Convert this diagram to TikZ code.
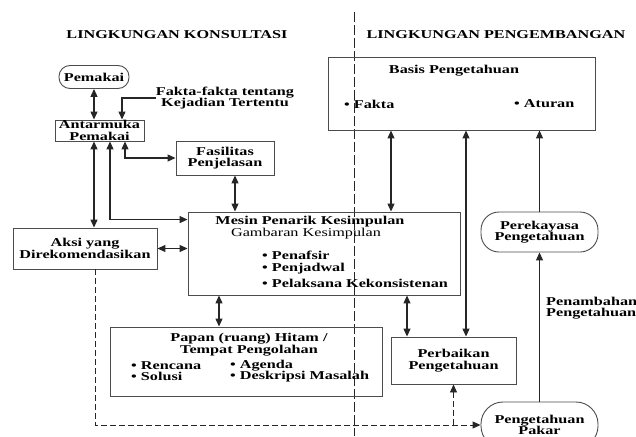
\documentclass[tikz,border=0pt]{standalone}
\usepackage{fontspec}
\setmainfont{Liberation Serif}[FakeStretch=1.35]
\usepackage{tikz}
\usetikzlibrary{calc,arrows.meta}

\newcommand{\huruf}{\fontsize{12}{11.5}\selectfont}
\tikzset{
  kotak/.style={draw=black!70, line width=0.9pt, align=center, font=\huruf\bfseries,
    inner sep=0pt},
  oval/.style={kotak, rounded corners=18pt},
  teks/.style={align=center, font=\huruf\bfseries, inner sep=0pt},
  hub/.style={draw=black!85, line width=1.1pt},
  hub2/.style={hub, {Triangle[length=8pt,width=7pt]}-{Triangle[length=8pt,width=7pt]}},
  hub1/.style={hub, -{Triangle[length=8pt,width=7pt]}},
  putus/.style={line width=0.9pt, dash pattern=on 6pt off 3pt},
}

\begin{document}
\begin{tikzpicture}[x=1pt,y=-1pt]
  \useasboundingbox (0,0) rectangle (636,436);
  \clip (0,0) rectangle (636,436);
  % judul kedua lingkungan
  \node[teks] (judulkiri) at (177,35) {LINGKUNGAN KONSULTASI};
  \node[teks] (judulkanan) at (496,35) {LINGKUNGAN PENGEMBANGAN};
  \coordinate (batasatas) at (354,12);
  \coordinate (batasbawah) at (354,436);
  \draw[black!85, line width=1pt, dash pattern=on 10pt off 3pt] (batasatas) -- (batasbawah);

  % lingkungan konsultasi
  \node[oval, rounded corners=11pt, minimum width=70, minimum height=23] (pemakai) at (94,77) {Pemakai};
  \node[kotak, minimum width=89, minimum height=21] (antarmuka) at (99.5,130.5) {Antarmuka\\Pemakai};
  \node[teks] (fakta) at (225,98) {Fakta-fakta tentang\\Kejadian Tertentu};
  \node[kotak, minimum width=98, minimum height=34] (fasilitas) at (225,158) {Fasilitas\\Penjelasan};
  \node[kotak, minimum width=144, minimum height=41] (aksi) at (85,248.5) {Aksi yang\\Direkomendasikan};
  \node[kotak, minimum width=272, minimum height=83] (mesin) at (324,253.5) {};
  \node[teks] (mesinjudul) at (310,222) {Mesin Penarik Kesimpulan};
  \node[teks, font=\huruf] (mesinsub) at (306,234) {Gambaran Kesimpulan};
  \node[teks, anchor=west] (penafsir) at (262,255) {\textbullet\ Penafsir};
  \node[teks, anchor=west] (penjadwal) at (262,269) {\textbullet\ Penjadwal};
  \node[teks, anchor=west] (pelaksana) at (262,283) {\textbullet\ Pelaksana Kekonsistenan};
  \node[kotak, minimum width=272, minimum height=69] (papan) at (246,361.5) {};
  \node[teks] (papanjudul) at (249,344.5) {Papan (ruang) Hitam /\\Tempat Pengolahan};
  \node[teks, anchor=west, align=left] (papankiri) at (131,371) {\textbullet\ Rencana\\\textbullet\ Solusi};
  \node[teks, anchor=west, align=left] (papankanan) at (230,371) {\textbullet\ Agenda\\\textbullet\ Deskripsi Masalah};

  % lingkungan pengembangan
  \node[kotak, minimum width=267, minimum height=73] (basis) at (461.5,93.5) {};
  \node[teks] (basisjudul) at (454,71) {Basis Pengetahuan};
  \node[teks, anchor=west] (faktabasis) at (344,104) {\textbullet\ Fakta};
  \node[teks, anchor=west] (aturan) at (514,104) {\textbullet\ Aturan};
  \node[kotak, minimum width=125, minimum height=47] (perbaikan) at (453.5,360.5) {Perbaikan\\Pengetahuan};
  \node[oval, minimum width=117, minimum height=40] (perekayasa) at (539.5,232) {Perekayasa\\Pengetahuan};
  \node[oval, rounded corners=22pt, minimum width=117, minimum height=46] (pakar) at (539.5,425) {Pengetahuan\\Pakar};
  \node[teks, anchor=west, align=left] (penambahan) at (546,308) {Penambahan\\Pengetahuan};

  % penghubung
  \draw[hub2] (pemakai.south) -- (pemakai.south |- antarmuka.north);
  \draw[hub1] (fakta.west) -| ([xshift=22.5]antarmuka.north);
  \draw[hub2] ([xshift=-5.5]antarmuka.south) -- ([xshift=-5.5]antarmuka.south |- aksi.north);
  \draw[hub2] ([xshift=10.5]antarmuka.south) |- ([yshift=-8]mesin.north west);
  \draw[hub2] ([xshift=25.5]antarmuka.south) |- (fasilitas.west);
  \draw[hub2] ([xshift=10]fasilitas.south) -- ([xshift=10]fasilitas.south |- mesin.north);
  \draw[hub2] (aksi.east) -- (aksi.east -| mesin.west);
  \draw[hub2] ([xshift=-27]papan.north) -- ([xshift=-27]papan.north |- mesin.south);
  \draw[hub2] ([xshift=-46.5]perbaikan.north) -- ([xshift=-46.5]perbaikan.north |- mesin.south);
  \draw[hub2] ([xshift=-70.5]basis.south) -- ([xshift=-70.5]basis.south |- mesin.north);
  \draw[hub2] ([xshift=12.5]perbaikan.north) -- ([xshift=12.5]perbaikan.north |- basis.south);
  \draw[hub1] (perekayasa.north) -- (perekayasa.north |- basis.south);
  \draw[hub1] (pakar.north) -- (perekayasa.south);
  \coordinate (cabang) at (perbaikan.south |- pakar.west);
  \draw[hub1, putus] ([xshift=10]aksi.south) |- (pakar.west);
  \draw[hub1, putus] (cabang) -- (perbaikan.south);
\end{tikzpicture}
\end{document}
